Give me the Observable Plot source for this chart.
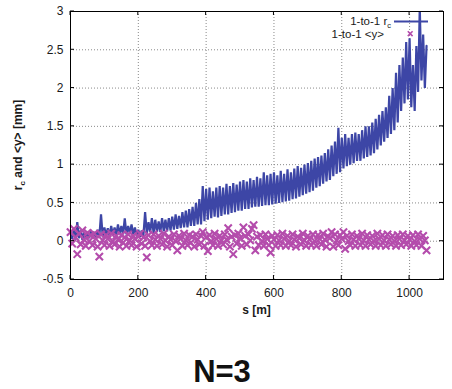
<!DOCTYPE html>
<html><head><meta charset="utf-8">
<script src="https://cdn.jsdelivr.net/npm/d3@7"></script>
<script src="https://cdn.jsdelivr.net/npm/@observablehq/plot@0.6"></script>
<style>
body{margin:0;background:#fff;font-family:"Liberation Sans",Arial,Helvetica,sans-serif;}
#wrap{width:452px;height:389px;overflow:hidden;background:#fff;}
#title{width:452px;text-align:center;font-weight:bold;font-size:31px;line-height:31px;margin-top:26px;position:relative;left:-4px;color:#111;}
</style></head><body><div id="wrap"><div id="chart"></div><div id="title">N=3</div></div>
<script>
// s positions [m]
const S = [0,5,10,15,20,25,30,35,40,45,50,55,60,65,70,75,80,85,90,95,100,105,110,115,120,125,130,135,140,145,150,155,160,165,170,175,180,185,190,195,200,205,210,215,220,225,230,235,240,245,250,255,260,265,270,275,280,285,290,295,300,305,310,315,320,325,330,335,340,345,350,355,360,365,370,375,380,385,390,395,400,405,410,415,420,425,430,435,440,445,450,455,460,465,470,475,480,485,490,495,500,505,510,515,520,525,530,535,540,545,550,555,560,565,570,575,580,585,590,595,600,605,610,615,620,625,630,635,640,645,650,655,660,665,670,675,680,685,690,695,700,705,710,715,720,725,730,735,740,745,750,755,760,765,770,775,780,785,790,795,800,805,810,815,820,825,830,835,840,845,850,855,860,865,870,875,880,885,890,895,900,905,910,915,920,925,930,935,940,945,950,955,960,965,970,975,980,985,990,995,1000,1005,1010,1015,1020,1025,1030,1035,1040,1045,1050];
// 1-to-1 r_c [mm]
const RC = [0.12,0.03,0.15,0.02,0.25,0.04,0.14,0.02,0.12,0.03,0.1,
0.04,0.13,0.05,0.12,0.05,0.15,0.06,0.35,0.06,0.18,
0.07,0.17,0.07,0.2,0.08,0.18,0.08,0.22,0.09,0.2,
0.09,0.3,0.09,0.2,0.1,0.22,0.09,0.18,0.07,0.15,
0.06,0.14,0.07,0.38,0.1,0.25,0.12,0.3,0.11,0.28,
0.12,0.26,0.12,0.3,0.13,0.28,0.13,0.3,0.14,0.32,
0.15,0.35,0.16,0.33,0.17,0.38,0.18,0.4,0.18,0.42,
0.2,0.45,0.2,0.5,0.22,0.55,0.22,0.72,0.26,0.68,
0.28,0.7,0.3,0.65,0.32,0.7,0.31,0.72,0.33,0.7,
0.35,0.75,0.35,0.72,0.37,0.76,0.38,0.74,0.4,0.78,
0.4,0.8,0.42,0.78,0.42,0.82,0.44,0.8,0.45,0.84,
0.45,0.82,0.46,0.9,0.47,0.86,0.47,0.88,0.48,0.9,
0.49,0.86,0.5,0.92,0.51,0.88,0.52,0.94,0.53,0.9,
0.55,0.95,0.56,0.98,0.58,0.96,0.6,1.0,0.62,1.02,
0.64,1.05,0.66,1.08,0.7,1.1,0.72,1.12,0.75,1.15,
0.78,1.2,0.8,1.25,0.85,1.3,0.88,1.48,0.9,1.35,
0.95,1.4,0.98,1.35,1.0,1.4,1.02,1.42,1.05,1.4,
1.05,1.45,1.08,1.5,1.1,1.5,1.12,1.55,1.15,1.6,
1.2,1.65,1.25,1.7,1.3,1.75,1.35,1.9,1.4,2.0,
1.45,2.2,1.55,2.3,1.7,2.4,1.8,2.6,1.85,2.65,
1.75,2.3,1.7,2.55,1.95,3.05,2.1,2.7,2.0,2.55];
// 1-to-1 <y> [mm]
const YM = [0.12,-0.03,0.16,0.05,-0.17,0.1,-0.04,0.14,0.02,-0.06,
0.11,0.0,0.08,-0.05,0.1,0.03,-0.07,-0.2,0.09,0.01,
-0.05,0.08,0.03,-0.06,0.1,0.0,-0.04,0.07,0.02,-0.07,
0.08,-0.02,0.05,-0.06,0.09,0.01,-0.05,0.07,0.03,-0.07,
0.06,0.1,-0.03,0.05,-0.06,-0.21,0.08,0.0,-0.05,0.09,
0.02,-0.06,0.07,0.03,-0.04,0.1,0.01,-0.07,0.06,0.02,
-0.05,0.09,0.0,-0.12,0.07,0.03,-0.06,0.1,0.01,-0.05,
0.08,-0.02,0.06,-0.07,0.09,0.02,-0.04,0.07,0.12,-0.06,
0.05,-0.13,0.08,0.0,-0.05,0.1,0.03,-0.06,0.07,0.01,
-0.04,0.09,0.02,0.17,-0.07,0.06,-0.17,0.08,-0.03,0.1,
0.04,-0.06,0.18,0.07,-0.04,0.09,0.01,0.16,0.21,-0.12,
0.06,-0.05,0.08,0.0,-0.06,0.09,0.03,-0.05,-0.15,0.07,
0.02,-0.06,0.08,0.01,-0.05,0.1,0.03,-0.06,0.07,0.0,
-0.05,0.09,0.02,-0.07,0.06,0.04,-0.04,0.1,0.01,-0.06,
0.07,0.02,-0.05,0.09,0.0,-0.06,0.08,0.03,-0.04,0.1,
0.02,-0.07,0.06,0.04,0.12,-0.07,0.09,0.01,-0.05,0.08,
0.03,0.12,-0.1,0.07,0.0,-0.05,0.09,0.02,-0.06,0.07,
0.03,-0.05,0.1,0.01,-0.06,0.08,0.02,-0.04,0.07,0.0,
-0.06,0.1,0.03,-0.05,0.08,0.01,-0.06,0.09,0.02,-0.04,
0.07,0.0,-0.06,0.08,0.03,-0.05,0.09,0.01,-0.04,0.07,
0.02,-0.06,0.08,0.0,-0.05,0.09,0.03,-0.06,0.07,0.01,-0.12];
const xTicks = [0,200,400,600,800,1000];
const yTicks = [-0.5,0,0.5,1,1.5,2,2.5,3];
const seriesNames = ["1-to-1 r", "1-to-1 <y>"];
const BLUE = "#3d46a6", MAG = "#b44cac";

const rows = S.map((s,i)=>({s, rc: RC[i], y: YM[i]}));
const FONT = "Liberation Sans, Arial, Helvetica, sans-serif";

const plot = Plot.plot({
  width: 452, height: 330,
  marginLeft: 70, marginRight: 9, marginTop: 11, marginBottom: 51,
  style: {fontFamily: FONT, fontSize: "12px", color: "#1a1a1a", background: "white", overflow: "visible"},
  x: {domain: [0, 1100], ticks: xTicks, label: null},
  y: {domain: [-0.5, 3], ticks: yTicks, label: null},
  marks: [
    Plot.gridX(xTicks, {stroke: "#8a8a8a", strokeOpacity: 1, strokeDasharray: "1,2"}),
    Plot.gridY(yTicks, {stroke: "#8a8a8a", strokeOpacity: 1, strokeDasharray: "1,2"}),
    Plot.axisX(xTicks, {tickSize: 0, tickPadding: 9, label: null, tickFormat: d => String(d)}),
    Plot.axisY(yTicks, {tickSize: 0, tickPadding: 7, label: null, tickFormat: d => String(d)}),
    Plot.line(rows, {x: "s", y: "rc", stroke: BLUE, strokeWidth: 2.2, strokeLinejoin: "miter", clip: true}),
    Plot.dot(rows, {x: "s", y: "y", symbol: "times", r: 3.4, stroke: MAG, strokeWidth: 2.1}),
    Plot.frame({stroke: "#000", strokeWidth: 1})
  ]
});
document.getElementById("chart").appendChild(plot);

const svg = d3.select(plot);
const sx = plot.scale("x"), sy = plot.scale("y");
const x0 = sx.apply(0), x1 = sx.apply(1100), y0 = sy.apply(-0.5), y1 = sy.apply(3);
const g = svg.append("g").attr("stroke", "#000").attr("stroke-width", 1);
xTicks.forEach(v => {
  const x = sx.apply(v);
  g.append("line").attr("x1", x).attr("x2", x).attr("y1", y0).attr("y2", y0 - 4);
  g.append("line").attr("x1", x).attr("x2", x).attr("y1", y1).attr("y2", y1 + 4);
});
yTicks.forEach(v => {
  const y = sy.apply(v);
  g.append("line").attr("x1", x0).attr("x2", x0 + 4).attr("y1", y).attr("y2", y);
  g.append("line").attr("x1", x1).attr("x2", x1 - 4).attr("y1", y).attr("y2", y);
});

// axis titles
svg.append("text").attr("x", (x0 + x1) / 2).attr("y", 314).attr("text-anchor", "middle")
  .attr("font-family", FONT).attr("font-size", 12).attr("font-weight", "bold").attr("fill", "#1a1a1a").text("s [m]");
const yl = svg.append("text").attr("transform", `translate(22,${(y0 + y1) / 2}) rotate(-90)`)
  .attr("text-anchor", "middle").attr("font-family", FONT).attr("font-size", 12).attr("font-weight", "bold").attr("fill", "#1a1a1a");
yl.append("tspan").text("r");
yl.append("tspan").attr("font-size", 8).attr("dy", 3).text("c");
yl.append("tspan").attr("dy", -3).text(" and <y> [mm]");

// legend
const lg = svg.append("g").attr("font-family", FONT).attr("font-size", 11.5).attr("fill", "#1a1a1a");
const t1 = lg.append("text").attr("x", 391).attr("y", 25).attr("text-anchor", "end");
t1.append("tspan").text(seriesNames[0]);
t1.append("tspan").attr("font-size", 7.5).attr("dy", 2.5).text("c");
lg.append("line").attr("x1", 394).attr("x2", 428).attr("y1", 21.5).attr("y2", 21.5).attr("stroke", BLUE).attr("stroke-width", 1.8);
lg.append("text").attr("x", 384).attr("y", 38).attr("text-anchor", "end").text(seriesNames[1]);
lg.append("path").attr("d", "M407.8,31.3L412.6,36.1M407.8,36.1L412.6,31.3").attr("stroke", MAG).attr("stroke-width", 1.6);
</script></body></html>
